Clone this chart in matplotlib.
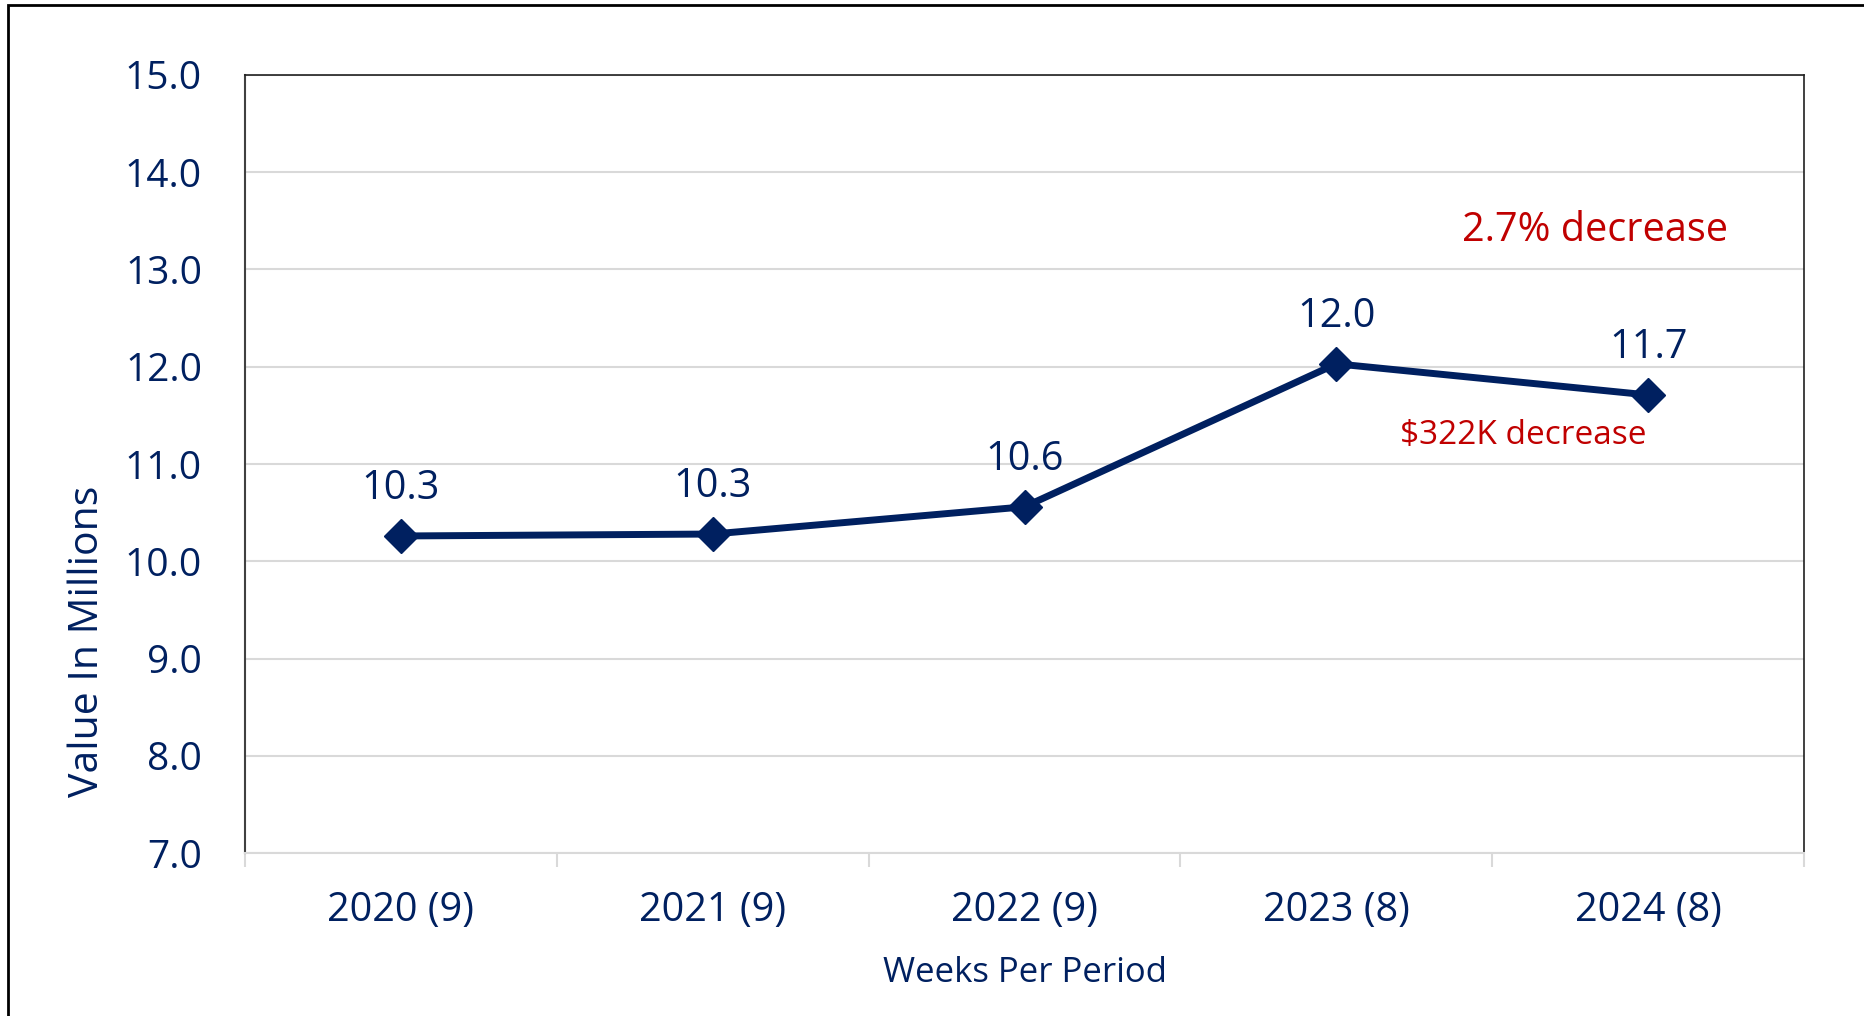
import matplotlib.pyplot as plt
from matplotlib.patches import Rectangle

plt.rcParams['font.family'] = ['Open Sans', 'DejaVu Sans']

NAVY = '#002060'
RED = '#C00000'
GRID = '#D9D9D9'

# Data
categories = ['2020 (9)', '2021 (9)', '2022 (9)', '2023 (8)', '2024 (8)']
values = [10.26, 10.28, 10.56, 12.03, 11.71]
y_ticks = [7.0, 8.0, 9.0, 10.0, 11.0, 12.0, 13.0, 14.0, 15.0]

fig = plt.figure(figsize=(18.65, 10.16), dpi=100)
ax = fig.add_axes([0.1314, 0.1604, 0.8359, 0.7658])

x = list(range(len(categories)))
ax.plot(x, values, color=NAVY, lw=5, marker='D', markersize=17, zorder=3)

for xi, v in zip(x, values):
    ax.annotate(f'{v:.1f}', (xi, v), xytext=(0, 34), textcoords='offset points',
                ha='center', va='center', fontsize=28.5, color=NAVY)

ax.text(3.83, 13.40, '2.7% decrease', ha='center', va='center', fontsize=28.5, color=RED)
ax.text(3.60, 11.29, '$322K decrease', ha='center', va='center', fontsize=24, color=RED)

ax.set_xlim(-0.5, len(categories) - 0.5)
ax.set_ylim(7, 15)
ax.set_yticks(y_ticks)
ax.set_yticklabels([f'{t:.1f}' for t in y_ticks])
ax.set_xticks(x)
ax.set_xticklabels(categories)
ax.tick_params(axis='y', length=0, pad=31, labelsize=28, labelcolor=NAVY)
ax.tick_params(axis='x', length=0, pad=27, labelsize=28.5, labelcolor=NAVY)

# category boundary ticks
ax.set_xticks([i - 0.5 for i in range(len(categories) + 1)], minor=True)
ax.tick_params(axis='x', which='minor', length=10, width=1.5, color=GRID)

ax.grid(axis='y', color=GRID, lw=1.5, zorder=0)
ax.set_axisbelow(True)

ax.spines['bottom'].set_color(GRID)
ax.spines['bottom'].set_linewidth(1.5)
ax.spines['left'].set_color('#404040')
ax.spines['left'].set_linewidth(1.5)
ax.spines['top'].set_color('#202020')
ax.spines['right'].set_color('#202020')
ax.spines['top'].set_linewidth(1.2)
ax.spines['right'].set_linewidth(1.2)

ax.set_xlabel('Weeks Per Period', fontsize=25, color=NAVY, labelpad=18)
ax.set_ylabel('Value In Millions', fontsize=29.5, color=NAVY)
ax.yaxis.set_label_coords(-0.088, 0.2725)

# outer frame
fig.patches.append(Rectangle((8 / 1865, -0.1), 1.2, 1.1 - 5 / 1016, transform=fig.transFigure,
                             fill=False, edgecolor='black', lw=2, clip_on=False))

fig.savefig('out.png', dpi=100)
